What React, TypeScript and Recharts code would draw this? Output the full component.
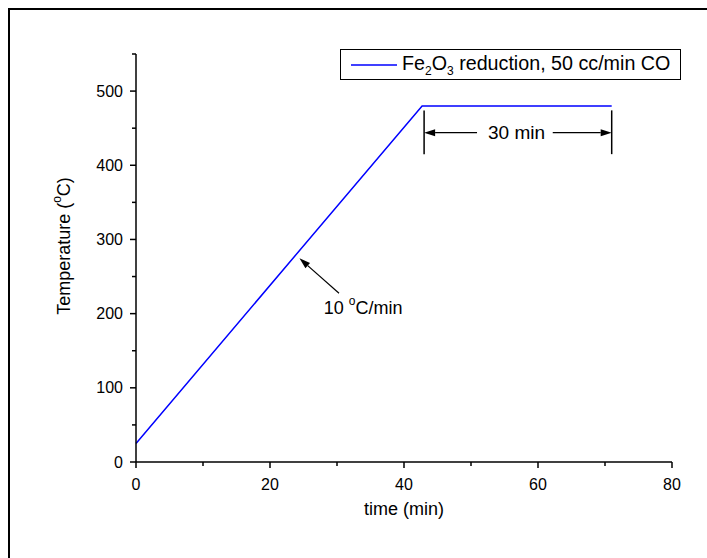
import { LineChart, Line, XAxis, YAxis, ReferenceLine, ReferenceDot, Legend } from 'recharts';

const FONT = '"Liberation Sans", Arial, sans-serif';

// ramp then hold
const time = [0, 42.7, 71.0];
const temperature = [25, 480, 480];

const xTicks = [0, 10, 20, 30, 40, 50, 60, 70, 80];
const yTicks = [0, 50, 100, 150, 200, 250, 300, 350, 400, 450, 500, 550];
const xMajor = [0, 20, 40, 60, 80];
const yMajor = [0, 100, 200, 300, 400, 500];

// annotation anchors (data units)
const holdMarks = [43.0, 71.0];
const holdMarkRange = [415, 474];
const holdArrowY = 444;
const holdArrowTails = [50.9, 62.2];
const holdLabel = { x: 56.8, y: 444, text: '30 min' };
const rateArrow = { fromX: 30.3, fromY: 227.4, toX: 24.4, toY: 274.5 };
const rateLabel = { x: 33.9, y: 207 };

const data = time.map((t, i) => ({ time: t, temp: temperature[i] }));

const XTick = (props: any) => {
  const { x, y, payload } = props;
  const major = xMajor.includes(payload.value);
  return (
    <g>
      <line x1={x} y1={y} x2={x} y2={y + (major ? 6 : 4)} stroke="#000" strokeWidth={1.5} />
      {major && (
        <text x={x} y={y + 22} textAnchor="middle" dominantBaseline="central" fontSize={16} fontFamily={FONT} fill="#000">
          {payload.value}
        </text>
      )}
    </g>
  );
};

const YTick = (props: any) => {
  const { x, y, payload } = props;
  const major = yMajor.includes(payload.value);
  return (
    <g>
      <line x1={x} y1={y} x2={x - (major ? 6 : 4)} y2={y} stroke="#000" strokeWidth={1.5} />
      {major && (
        <text x={x - 13} y={y} textAnchor="end" dominantBaseline="central" fontSize={16} fontFamily={FONT} fill="#000">
          {payload.value}
        </text>
      )}
    </g>
  );
};

const arrowShape = (props: any) => {
  const { x1, y1, x2, y2 } = props;
  const a = Math.atan2(y2 - y1, x2 - x1);
  const len = 11;
  const half = 3.5;
  const bx = x2 - len * Math.cos(a);
  const by = y2 - len * Math.sin(a);
  const pts = `${x2},${y2} ${bx - half * Math.sin(a)},${by + half * Math.cos(a)} ${bx + half * Math.sin(a)},${by - half * Math.cos(a)}`;
  return (
    <g>
      <line x1={x1} y1={y1} x2={bx} y2={by} stroke="#000" strokeWidth={1.2} />
      <polygon points={pts} fill="#000" />
    </g>
  );
};

const plainLine = (props: any) => (
  <line x1={props.x1} y1={props.y1} x2={props.x2} y2={props.y2} stroke="#000" strokeWidth={1.5} />
);

const sub = { fontSize: 12, position: 'relative' as const, top: 5 };

const LegendBox = () => (
  <div
    style={{
      boxSizing: 'border-box',
      width: 341,
      height: 31,
      border: '1px solid #000',
      background: '#fff',
      display: 'flex',
      alignItems: 'center',
      fontFamily: FONT,
      fontSize: 19.7,
      color: '#000',
      whiteSpace: 'nowrap',
    }}
  >
    <svg width={46} height={4} style={{ marginLeft: 10 }}>
      <line x1={0} y1={2} x2={46} y2={2} stroke="#0000ff" strokeWidth={1.5} />
    </svg>
    <span style={{ marginLeft: 5, marginTop: -3 }}>
      Fe<span style={sub}>2</span>O<span style={sub}>3</span> reduction, 50 cc/min CO
    </span>
  </div>
);

export default function App() {
  return (
    <div style={{ position: 'absolute', left: 0, top: 0, width: 707, height: 558, background: '#fff' }}>
      <div
        style={{
          position: 'absolute',
          left: 8,
          top: 8,
          width: 699,
          height: 550,
          borderTop: '2px solid #000',
          borderLeft: '2px solid #000',
          boxSizing: 'border-box',
        }}
      />
      <LineChart width={707} height={558} data={data} margin={{ top: 54, right: 35, bottom: 0, left: 0 }}>
        <XAxis
          dataKey="time"
          type="number"
          domain={[0, 80]}
          ticks={xTicks}
          interval={0}
          height={96}
          tickSize={0}
          tickMargin={0}
          tickLine={false}
          axisLine={{ stroke: '#000', strokeWidth: 1.5 }}
          tick={<XTick />}
          label={{
            content: (p: any) => (
              <text
                x={p.viewBox.x + p.viewBox.width / 2}
                y={p.viewBox.y + 47}
                textAnchor="middle"
                dominantBaseline="central"
                fontSize={18}
                fontFamily={FONT}
                fill="#000"
              >
                time (min)
              </text>
            ),
          }}
        />
        <YAxis
          type="number"
          domain={[0, 550]}
          ticks={yTicks}
          interval={0}
          width={136}
          tickSize={0}
          tickMargin={0}
          tickLine={false}
          axisLine={{ stroke: '#000', strokeWidth: 1.5 }}
          tick={<YTick />}
          label={{
            content: (p: any) => {
              const cx = 64;
              const cy = p.viewBox.y + p.viewBox.height / 2 - 12;
              return (
                <text
                  x={cx}
                  y={cy}
                  transform={`rotate(-90 ${cx} ${cy})`}
                  textAnchor="middle"
                  dominantBaseline="central"
                  fontSize={18}
                  fontFamily={FONT}
                  fill="#000"
                >
                  Temperature (<tspan fontSize={12} dy={-7}>o</tspan>
                  <tspan dy={7}>C)</tspan>
                </text>
              );
            },
          }}
        />
        <Legend
          verticalAlign="middle"
          align="center"
          layout="horizontal"
          wrapperStyle={{ left: 340, top: 49, width: 341, height: 31 }}
          content={() => <LegendBox />}
        />
        <Line
          type="linear"
          dataKey="temp"
          name="Fe2O3 reduction, 50 cc/min CO"
          stroke="#0000ff"
          strokeWidth={1.5}
          dot={false}
          isAnimationActive={false}
        />
        {holdMarks.map((m) => (
          <ReferenceLine
            key={m}
            segment={[
              { x: m, y: holdMarkRange[0] },
              { x: m, y: holdMarkRange[1] },
            ]}
            shape={plainLine}
          />
        ))}
        <ReferenceLine
          segment={[
            { x: holdArrowTails[0], y: holdArrowY },
            { x: holdMarks[0], y: holdArrowY },
          ]}
          shape={arrowShape}
        />
        <ReferenceLine
          segment={[
            { x: holdArrowTails[1], y: holdArrowY },
            { x: holdMarks[1], y: holdArrowY },
          ]}
          shape={arrowShape}
        />
        <ReferenceDot
          x={holdLabel.x}
          y={holdLabel.y}
          r={0}
          shape={(p: any) => (
            <text x={p.cx} y={p.cy} textAnchor="middle" dominantBaseline="central" fontSize={19} fontFamily={FONT} fill="#000">
              {holdLabel.text}
            </text>
          )}
        />
        <ReferenceLine
          segment={[
            { x: rateArrow.fromX, y: rateArrow.fromY },
            { x: rateArrow.toX, y: rateArrow.toY },
          ]}
          shape={arrowShape}
        />
        <ReferenceDot
          x={rateLabel.x}
          y={rateLabel.y}
          r={0}
          shape={(p: any) => (
            <text x={p.cx} y={p.cy} textAnchor="middle" dominantBaseline="central" fontSize={18} fontFamily={FONT} fill="#000">
              10 <tspan fontSize={12} dy={-7}>o</tspan>
              <tspan dy={7}>C/min</tspan>
            </text>
          )}
        />
      </LineChart>
    </div>
  );
}
